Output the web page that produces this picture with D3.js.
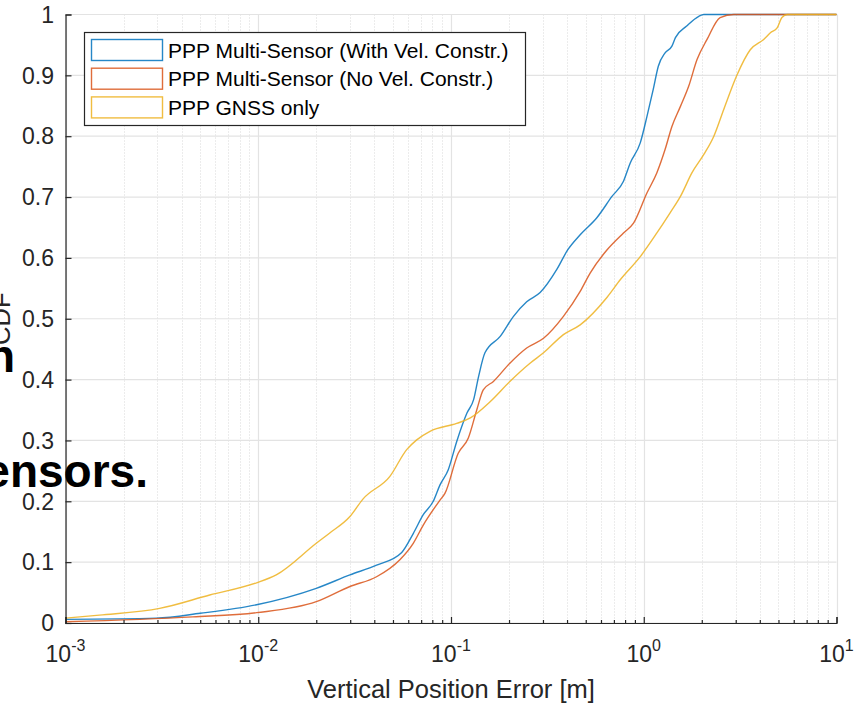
<!DOCTYPE html>
<html><head><meta charset="utf-8">
<script src="https://cdn.jsdelivr.net/npm/d3@7"></script>
<style>
html,body{margin:0;padding:0;background:#fff;}
svg{display:block;font-family:"Liberation Sans",Arial,Helvetica,sans-serif;}
</style></head>
<body><svg id="chart" width="867" height="704"></svg>
<script>
// ---- data (vertical position error in metres, CDF value) ----
const seriesNames = ["PPP Multi-Sensor (With Vel. Constr.)", "PPP Multi-Sensor (No Vel. Constr.)", "PPP GNSS only"];
const seriesColors = ["#0072BD", "#D95319", "#EDB120"];

const withVelX = [0.001,0.00296,0.005,0.0098,0.020,0.0299,0.0411,0.0555,0.0637,0.0718,0.0809,0.0877,0.0968,0.107,0.121,0.131,0.139,0.150,0.180,0.211,0.247,0.290,0.354,0.403,0.468,0.571,0.684,0.785,0.851,0.959,1.04,1.12,1.19,1.29,1.40,1.46,1.67,1.93,2.05,10];
const withVelY = [0.006,0.008,0.016,0.030,0.057,0.079,0.095,0.116,0.147,0.178,0.200,0.227,0.252,0.298,0.345,0.367,0.405,0.444,0.471,0.504,0.528,0.543,0.581,0.613,0.638,0.666,0.701,0.726,0.756,0.789,0.833,0.877,0.915,0.937,0.948,0.962,0.981,0.997,1.0,1.0];

const noVelX = [0.001,0.00458,0.0098,0.020,0.0299,0.0411,0.0543,0.0637,0.0718,0.0877,0.0930,0.109,0.123,0.136,0.147,0.166,0.202,0.247,0.302,0.383,0.468,0.527,0.644,0.785,0.885,1.04,1.17,1.29,1.40,1.55,1.71,1.89,2.13,2.49,2.93,10];
const noVelY = [0.002,0.010,0.017,0.035,0.060,0.076,0.104,0.131,0.161,0.202,0.213,0.279,0.304,0.350,0.383,0.397,0.427,0.452,0.468,0.504,0.545,0.575,0.613,0.641,0.657,0.707,0.740,0.778,0.816,0.849,0.882,0.926,0.959,0.995,1.0,1.0];

const gnssX = [0.001,0.00150,0.00308,0.00560,0.0098,0.0124,0.0200,0.0235,0.0299,0.0350,0.0482,0.0589,0.0664,0.0778,0.107,0.126,0.160,0.202,0.257,0.302,0.383,0.468,0.644,0.755,0.959,1.17,1.37,1.55,1.78,2.05,2.31,2.60,3.05,3.57,4.19,4.54,4.92,5.21,5.55,10];
const gnssY = [0.008,0.013,0.024,0.046,0.066,0.079,0.131,0.148,0.175,0.204,0.241,0.285,0.301,0.315,0.328,0.337,0.364,0.397,0.427,0.444,0.474,0.490,0.535,0.564,0.602,0.641,0.674,0.701,0.740,0.770,0.800,0.844,0.901,0.942,0.959,0.970,0.978,0.995,1.0,1.0];

const xMajorTicks = [0.001, 0.01, 0.1, 1, 10];
const xTickExponents = ["-3", "-2", "-1", "0", "1"];
const yTicks = [0,0.1,0.2,0.3,0.4,0.5,0.6,0.7,0.8,0.9,1];
const yTickLabels = ["0","0.1","0.2","0.3","0.4","0.5","0.6","0.7","0.8","0.9","1"];
const xLabel = "Vertical Position Error [m]";
const yLabel = "CDF";
const overlayLines = ["n", "ensors."];

// ---- layout ----
const svg = d3.select("#chart");
const L = 65.5, R = 836.5, T = 14.5, B = 623;
const x = d3.scaleLog().domain([1e-3, 1e1]).range([L, R]);
const y = d3.scaleLinear().domain([0, 1]).range([B, T]);
const axisCol = "#262626";

// minor ticks values
const xMinor = [];
xMajorTicks.slice(0, -1).forEach(m => { for (let k = 2; k <= 9; k++) xMinor.push(m * k); });

// grid
const g = svg.append("g");
g.selectAll(".minx").data(xMinor).enter().append("line")
  .attr("x1", d => Math.round(x(d)) + 0.5).attr("x2", d => Math.round(x(d)) + 0.5)
  .attr("y1", T).attr("y2", B)
  .attr("stroke", "#d9d9d9").attr("stroke-width", 1).attr("stroke-dasharray", "1,2");
g.selectAll(".majx").data(xMajorTicks).enter().append("line")
  .attr("x1", d => Math.round(x(d)) + 0.5).attr("x2", d => Math.round(x(d)) + 0.5)
  .attr("y1", T).attr("y2", B)
  .attr("stroke", "#e3e3e3").attr("stroke-width", 1.2);
g.selectAll(".majy").data(yTicks).enter().append("line")
  .attr("x1", L).attr("x2", R)
  .attr("y1", d => y(d)).attr("y2", d => y(d))
  .attr("stroke", "#e3e3e3").attr("stroke-width", 1.2);

// series
const series = [
  {xs: withVelX, ys: withVelY},
  {xs: noVelX, ys: noVelY},
  {xs: gnssX, ys: gnssY}
];
const line = d3.line().x(d => x(d[0])).y(d => y(d[1])).curve(d3.curveMonotoneX);
// draw GNSS first so blue on top like MATLAB order reversed? keep MATLAB order: later on top
series.forEach((s, i) => {
  const pts = s.xs.map((v, j) => [v, s.ys[j]]);
  svg.append("path").datum(pts)
    .attr("d", line).attr("fill", "none")
    .attr("stroke", seriesColors[i]).attr("stroke-width", 1.4)
    .attr("stroke-opacity", 0.85);
});

// axes (left & bottom only, ticks inward)
const xAxis = d3.axisBottom(x).tickValues(xMajorTicks).tickSize(-6).tickFormat("");
const xAxisMinor = d3.axisBottom(x).tickValues(xMinor).tickSize(-3).tickFormat("");
const ax = svg.append("g").attr("transform", `translate(0,${B})`);
ax.call(xAxis);
ax.append("g").call(xAxisMinor);
ax.selectAll("path.domain").attr("stroke", axisCol).attr("stroke-width", 1.2);
ax.selectAll("line").attr("stroke", axisCol).attr("stroke-width", 1.2);
ax.selectAll("g g path.domain").remove();

const yAxis = d3.axisLeft(y).tickValues(yTicks).tickSize(-6).tickFormat("");
const ay = svg.append("g").attr("transform", `translate(${L},0)`).call(yAxis);
ay.select("path.domain").attr("stroke", axisCol).attr("stroke-width", 1.2);
ay.selectAll("line").attr("stroke", axisCol).attr("stroke-width", 1.2);

// tick labels
svg.append("g").selectAll("text").data(yTicks).enter().append("text")
  .attr("x", 54).attr("y", d => y(d)).attr("dy", "0.36em")
  .attr("text-anchor", "end").attr("font-size", 23).attr("fill", axisCol)
  .text((d, i) => yTickLabels[i]);

const xl = svg.append("g").selectAll("text").data(xMajorTicks).enter().append("text")
  .attr("x", d => x(d)).attr("y", 662)
  .attr("text-anchor", "middle").attr("font-size", 23).attr("fill", axisCol);
xl.append("tspan").text("10");
xl.append("tspan").attr("dy", -11).attr("font-size", 16).text((d, i) => xTickExponents[i]);

// axis labels
svg.append("text").attr("x", (L + R) / 2).attr("y", 698)
  .attr("text-anchor", "middle").attr("font-size", 25.5).attr("fill", axisCol).text(xLabel);
svg.append("text").attr("transform", `translate(10,${(T + B) / 2}) rotate(-90)`)
  .attr("text-anchor", "middle").attr("font-size", 25.5).attr("fill", axisCol).text(yLabel);

// legend
const lg = svg.append("g");
lg.append("rect").attr("x", 84.5).attr("y", 32.5).attr("width", 441).attr("height", 93)
  .attr("fill", "#fff").attr("stroke", axisCol).attr("stroke-width", 1.2);
seriesNames.forEach((name, i) => {
  const cy = 50 + i * 28.7;
  lg.append("rect").attr("x", 91.5).attr("y", cy - 10.5).attr("width", 71).attr("height", 21)
    .attr("fill", "#fff").attr("stroke", seriesColors[i]).attr("stroke-width", 1.4).attr("stroke-opacity", 0.85);
  lg.append("text").attr("x", 168).attr("y", cy).attr("dy", "0.36em")
    .attr("font-size", 21).attr("fill", "#000").text(name);
});

// overlapping bold slide text
svg.append("text").attr("x", 15).attr("y", 372).attr("text-anchor", "end")
  .attr("font-size", 46).attr("font-weight", "bold").attr("fill", "#000").text(overlayLines[0]);
svg.append("text").attr("x", 148).attr("y", 487).attr("text-anchor", "end")
  .attr("font-size", 46).attr("font-weight", "bold").attr("fill", "#000").text(overlayLines[1]);
</script></body></html>
